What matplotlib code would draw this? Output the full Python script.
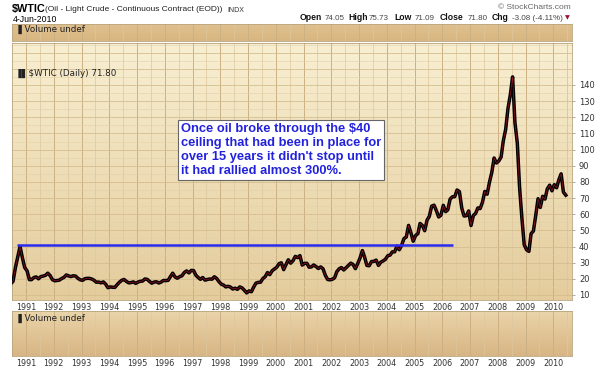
import numpy as np
import pandas as pd
import matplotlib
matplotlib.use("Agg")
import matplotlib.pyplot as plt
import matplotlib.dates as mdates
from matplotlib.colors import LinearSegmentedColormap

# monthly (mid-month) WTI continuous contract levels, Jun-1990 .. Jun-2010
wtic_close = [
    17.0, 18.5, 27.0, 33.5, 40.0, 33.0, 27.0,                                   # 1990 Jun-Dec
    25.0, 19.5, 19.5, 20.8, 21.2, 20.0, 21.4, 21.7, 22.2, 23.5, 22.0, 19.5,     # 1991
    18.8, 19.0, 19.2, 20.2, 20.9, 22.4, 21.8, 21.4, 21.9, 21.7, 20.3, 19.4,     # 1992
    19.1, 20.1, 20.3, 20.3, 19.9, 19.1, 17.9, 18.0, 17.5, 18.1, 16.7, 14.5,     # 1993
    15.0, 14.8, 14.7, 16.4, 17.9, 19.1, 19.6, 18.4, 17.5, 17.7, 18.1, 17.2,     # 1994
    18.0, 18.5, 18.6, 19.9, 19.7, 18.4, 17.3, 18.0, 18.2, 17.4, 18.0, 19.0,     # 1995
    18.9, 19.1, 21.3, 23.5, 21.2, 20.4, 21.3, 21.9, 23.9, 24.9, 23.7, 25.2,     # 1996
    25.1, 22.2, 20.9, 19.7, 20.8, 19.2, 19.6, 19.9, 19.8, 21.3, 20.2, 18.3,     # 1997
    16.7, 16.1, 15.0, 15.4, 14.9, 13.7, 14.2, 13.5, 15.0, 14.4, 12.9, 11.3,     # 1998
    12.5, 12.0, 14.7, 17.3, 17.8, 17.9, 20.1, 21.3, 23.9, 22.6, 25.0, 26.1,     # 1999
    27.2, 29.4, 29.9, 25.7, 28.8, 31.8, 29.7, 31.2, 33.9, 33.1, 34.4, 28.5,     # 2000
    29.6, 29.6, 27.2, 27.4, 28.6, 27.6, 26.4, 27.4, 26.2, 22.2, 19.6, 19.4,     # 2001
    19.7, 20.7, 24.4, 26.2, 27.0, 25.5, 26.9, 28.4, 29.7, 28.9, 26.3, 29.4,     # 2002
    32.9, 37.5, 33.6, 28.3, 28.1, 30.7, 30.8, 31.6, 28.3, 30.3, 31.1, 32.1,     # 2003
    34.3, 34.7, 36.7, 36.7, 40.3, 38.0, 40.7, 44.9, 45.9, 53.1, 48.5, 43.3,     # 2004
    46.8, 48.0, 54.3, 53.0, 49.8, 56.3, 58.7, 65.0, 65.6, 62.3, 58.3, 59.4,     # 2005
    65.5, 61.6, 62.7, 69.4, 70.8, 70.9, 75.0, 74.0, 63.8, 58.9, 59.1, 62.0,     # 2006
    53.0, 59.3, 60.4, 63.9, 63.5, 67.5, 74.1, 72.4, 79.9, 85.8, 94.8, 91.7,     # 2007
    93.0, 95.4, 105.5, 112.6, 125.4, 133.9, 145.0, 116.7, 104.1, 76.6, 57.3, 41.1,  # 2008
    38.0, 37.0, 47.9, 49.6, 59.0, 69.6, 64.2, 71.1, 69.4, 75.7, 78.0, 74.5,     # 2009
    78.3, 76.4, 81.2, 85.0, 73.7, 71.8,                                         # 2010 Jan-Jun
]
first_month = "1990-06-01"

ceiling_level = 41.2
ceiling_start = "1990-09-05"
ceiling_end = "2006-05-20"

price_ticks = [10, 20, 30, 40, 50, 60, 70, 80, 90, 100, 110, 120, 130, 140]

note = ("Once oil broke through the $40\n"
        "ceiling that had been in place for\n"
        "over 15 years it didn't stop until\n"
        "it had rallied almost 300%.")

dates = pd.date_range(first_month, periods=len(wtic_close), freq="MS") + pd.Timedelta(days=14)

W, H = 600, 372
fig = plt.figure(figsize=(W / 100, H / 100), dpi=100, facecolor="white")


def box(left, top, right, bottom):
    return [left / W, 1 - bottom / H, (right - left) / W, (bottom - top) / H]


def ftext(x, y, s, **kw):
    fig.text(x / W, 1 - y / H, s, **kw)


xmin = pd.Timestamp("1990-07-01")
xmax = pd.Timestamp("2010-09-05")


def panel(rect, top_col, bot_col, ylim, minor_h=None, major_h=None):
    ax = fig.add_axes(rect)
    cmap = LinearSegmentedColormap.from_list("bg", [top_col, bot_col])
    ax.imshow(np.linspace(0, 1, 100).reshape(-1, 1), cmap=cmap, aspect="auto",
              extent=[mdates.date2num(xmin), mdates.date2num(xmax), ylim[0], ylim[1]],
              origin="upper", zorder=0)
    ax.set_xlim(xmin, xmax)
    ax.set_ylim(*ylim)
    # vertical grid: years + half years
    for yr in range(1991, 2011):
        ax.axvline(pd.Timestamp(f"{yr}-01-01"), color="#cbb083", lw=0.7, zorder=1)
        ax.axvline(pd.Timestamp(f"{yr}-07-01"), color="#dcc79f", lw=0.5, zorder=1)
    ax.axvline(pd.Timestamp("2010-07-01"), color="#dcc79f", lw=0.5, zorder=1)
    if minor_h is not None:
        for v in minor_h:
            ax.axhline(v, color="#e2d0a8", lw=0.4, zorder=1)
    if major_h is not None:
        for v in major_h:
            ax.axhline(v, color="#d5bd90", lw=0.6, zorder=1)
    for s in ax.spines.values():
        s.set_color("#b9a57e")
        s.set_linewidth(0.6)
    ax.set_yticks([])
    ax.xaxis.set_major_locator(mdates.YearLocator())
    ax.xaxis.set_major_formatter(mdates.DateFormatter("%Y"))
    ax.tick_params(axis="x", length=0, labelsize=5.8, labelcolor="#333333", pad=2)
    return ax


# top "volume" strip
ax_top = panel(box(12, 24, 572, 41), "#dfc08f", "#d8b680", (0, 1))
ax_top.set_xticklabels([])
ax_top.text(0.006, 0.7, "\u2590 Volume undef", transform=ax_top.transAxes, fontsize=6.3,
            color="#222222", va="center", family="DejaVu Sans")

# main price panel
ax = panel(box(12, 43, 572, 300), "#f8efd2", "#e4cc9c", (6.9, 166),
           minor_h=np.arange(15, 166, 10), major_h=np.arange(10, 166, 10))
ax.plot(dates, wtic_close, color="black", lw=2.5, solid_joinstyle="round", zorder=3)
ax.plot(dates, wtic_close, color="#c0182c", lw=0.5, alpha=0.8, zorder=4)
ax.hlines(ceiling_level, pd.Timestamp(ceiling_start), pd.Timestamp(ceiling_end),
          color="#2a2af0", lw=1.8, zorder=5)
ax.yaxis.tick_right()
ax.set_yticks(price_ticks)
ax.tick_params(axis="y", length=2, width=0.5, color="#888888", labelsize=6,
               labelcolor="#333333", pad=3)
ax.text(0.006, 0.88, "\u2590\u258c$WTIC (Daily) 71.80", transform=ax.transAxes,
        fontsize=6.3, color="#222222", va="center", family="DejaVu Sans")
ax.text(0.302, 0.69, note, transform=ax.transAxes, fontsize=9.3, fontweight="bold",
        color="#2222dd", va="top", ha="left", linespacing=1.24, family="Liberation Sans",
        zorder=7,
        bbox=dict(boxstyle="square,pad=0.22", facecolor="white", edgecolor="#666666",
                  linewidth=0.8))

# bottom volume panel
ax_vol = panel(box(12, 311, 572, 356), "#ead4a9", "#d8b584", (0, 1))
ax_vol.text(0.006, 0.84, "\u2590 Volume undef", transform=ax_vol.transAxes, fontsize=6.3,
            color="#222222", va="center", family="DejaVu Sans")

# header
ftext(12, 9, "$WTIC", fontsize=7.8, fontweight="bold", family="Liberation Sans", va="center")
ftext(45, 9.5, "(Oil - Light Crude - Continuous Contract (EOD))", fontsize=6.0,
      family="Liberation Sans", va="center", color="#222222")
ftext(227, 10, "INDX", fontsize=5, family="Liberation Sans", va="center", color="#333333")
ftext(13, 19.5, "4-Jun-2010", fontsize=6.3, family="Liberation Sans", va="center")
ftext(571, 7.5, "\u00a9 StockCharts.com", fontsize=6, family="Liberation Sans",
      va="center", ha="right", color="#666666")

hdr = [(300, "Open", True), (325, "74.05", False), (348, "High", True), (369, "75.73", False),
       (394, "Low", True), (415, "71.09", False), (440, "Close", True), (468, "71.80", False),
       (492, "Chg", True), (512, "-3.08 (-4.11%)", False)]
for x, s, b in hdr:
    ftext(x, 18, s, fontsize=6.2 if b else 5.8, fontweight="bold" if b else "normal",
          family="Liberation Sans", va="center", color="#111111" if b else "#444444")
ftext(565, 18, "\u25bc", fontsize=4.5, va="center", color="#9a1030", family="DejaVu Sans")

fig.savefig("out.png", dpi=100, facecolor="white")
